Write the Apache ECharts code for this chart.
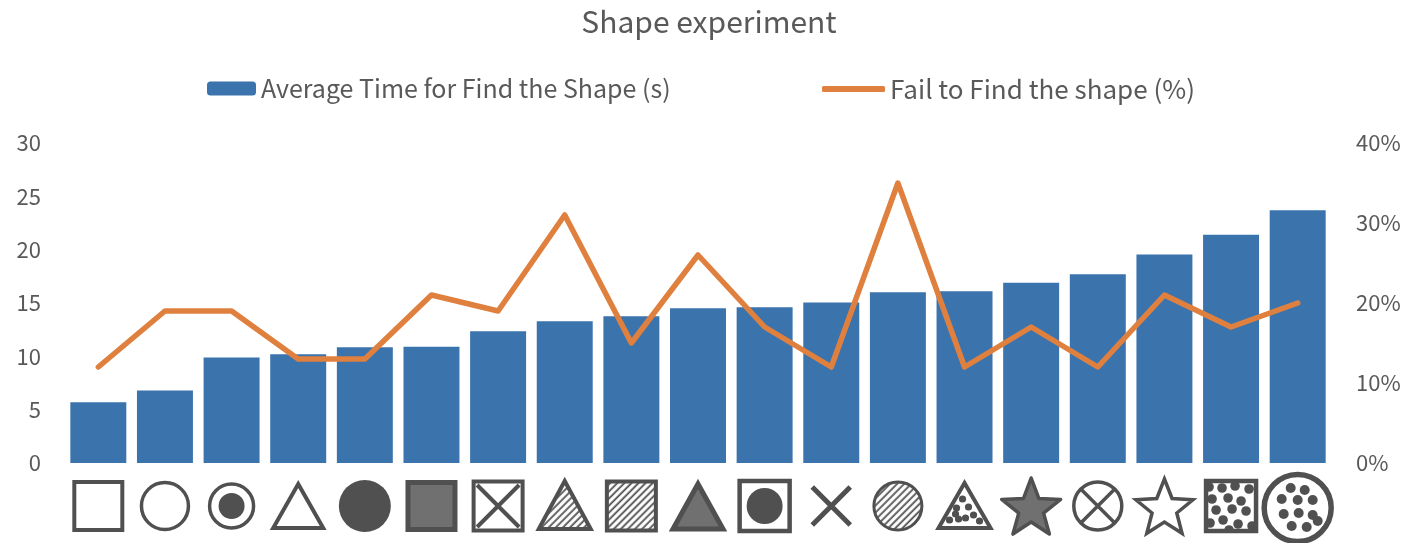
<!DOCTYPE html>
<html>
<head>
<meta charset="utf-8">
<script src="https://cdn.jsdelivr.net/npm/echarts@6/dist/echarts.min.js"></script>
<style>
  html, body { margin: 0; padding: 0; background: #fff; }
  #main { width: 1418px; height: 550px; }
</style>
</head>
<body>
<div id="main"></div>
<script>
// shapes along the x axis, left to right
var categories = ['square', 'circle', 'bullseye', 'triangle', 'filledCircle', 'greySquare',
  'crossSquare', 'hatchTriangle', 'hatchSquare', 'greyTriangle', 'circleSquare', 'cross',
  'hatchCircle', 'dotTriangle', 'greyStar', 'crossCircle', 'star', 'dotSquare', 'dotCircle'];

// Average Time for Find the Shape (s)
var avgTime = [5.7, 6.8, 9.9, 10.2, 10.85, 10.9, 12.35, 13.3, 13.75, 14.5, 14.6, 15.05,
  16.0, 16.1, 16.9, 17.7, 19.55, 21.4, 23.7];

// Fail to Find the shape (%)
var failRate = [12, 19, 19, 13, 13, 21, 19, 31, 15, 26, 17, 12, 35, 12, 17, 12, 21, 17, 20];

var leftTicks = { min: 0, max: 30, interval: 5 };
var rightTicks = { min: 0, max: 40, interval: 10 };

var FONT = '"Noto Sans CJK JP", "Noto Sans", sans-serif';
var TXT = '#595959';
var INK = '#505050';
var GREY = '#707070';

function svg(body) {
  var s = '<svg xmlns="http://www.w3.org/2000/svg" width="148" height="148" viewBox="0 0 74 74">' +
    '<defs><pattern id="h" patternUnits="userSpaceOnUse" width="5" height="5" patternTransform="rotate(45)">' +
    '<rect width="5" height="5" fill="#fff"/><line x1="1.2" y1="0" x2="1.2" y2="5" stroke="' + INK + '" stroke-width="1.8"/></pattern>' +
    '<clipPath id="c"><rect x="12" y="12" width="50" height="50"/></clipPath></defs>' +
    body + '</svg>';
  return 'data:image/svg+xml;charset=utf-8,' + encodeURIComponent(s);
}
function starPts(cx, cy, R, r) {
  var p = [];
  for (var k = 0; k < 10; k++) {
    var a = (-90 + k * 36) * Math.PI / 180;
    var rr = k % 2 ? r : R;
    p.push((cx + rr * Math.cos(a)).toFixed(2) + ',' + (cy + rr * Math.sin(a)).toFixed(2));
  }
  return p.join(' ');
}
function dots(list, r) {
  return list.map(function (d) { return '<circle cx="' + d[0] + '" cy="' + d[1] + '" r="' + r + '" fill="' + INK + '"/>'; }).join('');
}
var st = ' stroke="' + INK + '" ';

var icons = {
  square: '<rect x="13" y="13" width="48" height="48" fill="#fff"' + st + 'stroke-width="4"/>',
  circle: '<circle cx="37" cy="37" r="23.5" fill="#fff"' + st + 'stroke-width="3.5"/>',
  bullseye: '<circle cx="37" cy="37" r="22" fill="#fff"' + st + 'stroke-width="3.5"/><circle cx="37" cy="37" r="13" fill="' + INK + '"/>',
  triangle: '<polygon points="37,15 62,59 12,59" fill="#fff"' + st + 'stroke-width="4"/>',
  filledCircle: '<circle cx="37" cy="37" r="26" fill="' + INK + '"/>',
  greySquare: '<rect x="13.5" y="13.5" width="47" height="47" fill="' + GREY + '"' + st + 'stroke-width="5"/>',
  crossSquare: '<rect x="12.5" y="12.5" width="49" height="49" fill="#fff"' + st + 'stroke-width="4"/><path d="M16 16 L58 58 M58 16 L16 58"' + st + 'stroke-width="4"/>',
  hatchTriangle: '<polygon points="37,12 63,60 11,60" fill="url(#h)"' + st + 'stroke-width="4"/>',
  hatchSquare: '<rect x="12.5" y="12.5" width="49" height="49" fill="url(#h)"' + st + 'stroke-width="4"/>',
  greyTriangle: '<polygon points="37,15 62,60 12,60" fill="' + GREY + '"' + st + 'stroke-width="5"/>',
  circleSquare: '<rect x="12" y="12" width="50" height="50" fill="#fff"' + st + 'stroke-width="4.5"/><circle cx="37" cy="37" r="18" fill="' + INK + '"/>',
  cross: '<path d="M18 18 L56 56 M56 18 L18 56"' + st + 'stroke-width="5"/>',
  hatchCircle: '<circle cx="37" cy="37" r="24" fill="url(#h)"' + st + 'stroke-width="3"/>',
  dotTriangle: '<polygon points="37,14 63,59 11,59" fill="#fff"' + st + 'stroke-width="4"/>' +
    dots([[35, 30], [29, 39], [41, 38], [22, 51], [31, 50], [38, 49], [46, 46], [52, 52], [28, 45]], 3.6),
  greyStar: '<polygon points="' + starPts(37, 40, 31, 13) + '" fill="' + GREY + '"' + st + 'stroke-width="3.5" stroke-linejoin="round"/>',
  crossCircle: '<circle cx="37" cy="37" r="24" fill="#fff"' + st + 'stroke-width="3.5"/><path d="M20 20 L54 54 M54 20 L20 54"' + st + 'stroke-width="3.5"/>',
  star: '<polygon points="' + starPts(37, 40, 30, 13) + '" fill="#fff"' + st + 'stroke-width="3.5"/>',
  dotSquare: '<rect x="12" y="12" width="50" height="50" fill="#fff"/><g clip-path="url(#c)">' +
    dots([[15, 18], [28, 19], [41, 17], [55, 20], [18, 30], [34, 29], [47, 32], [22, 41], [38, 40], [52, 42],
      [16, 54], [29, 51], [44, 55], [58, 57], [35, 61]], 4.8) +
    '</g><rect x="12" y="12" width="50" height="50" fill="none"' + st + 'stroke-width="4.5"/>',
  dotCircle: '<circle cx="37" cy="39" r="33.5" fill="#fff"' + st + 'stroke-width="5.5"/>' +
    dots([[30, 19], [44, 21], [21, 30], [37, 31], [52, 31], [23, 45], [38, 44], [52, 46], [31, 57], [46, 58], [57, 52]], 5)
};

var rich = {};
categories.forEach(function (c) {
  rich[c] = { width: 74, height: 74, lineHeight: 74, align: 'center', backgroundColor: { image: svg(icons[c]) } };
});

var chart = echarts.init(document.getElementById('main'));
chart.setOption({
  backgroundColor: '#fff',
  animation: false,
  textStyle: { fontFamily: FONT },
  title: {
    text: 'Shape experiment',
    left: 'center',
    top: 2,
    textStyle: { fontFamily: FONT, fontSize: 30, fontWeight: 'normal', color: TXT }
  },
  legend: [{
    data: ['Average Time for Find the Shape (s)'],
    left: 202,
    top: 71,
    itemWidth: 49,
    itemHeight: 14,
    textStyle: { fontFamily: FONT, fontSize: 25, color: TXT }
  }, {
    data: [{ name: 'Fail to Find the shape (%)', icon: 'roundRect' }],
    left: 817,
    top: 71,
    itemWidth: 63,
    itemHeight: 6,
    textStyle: { fontFamily: FONT, fontSize: 26, color: TXT }
  }],
  grid: { left: 65, right: 87, top: 143, bottom: 87 },
  xAxis: {
    type: 'category',
    data: categories,
    axisLine: { show: false },
    axisTick: { show: false },
    axisLabel: {
      interval: 0,
      margin: 6,
      formatter: function (v) { return '{' + v + '| }'; },
      rich: rich
    }
  },
  yAxis: [{
    type: 'value',
    min: leftTicks.min,
    max: leftTicks.max,
    interval: leftTicks.interval,
    splitLine: { show: false },
    axisLabel: { fontFamily: FONT, fontSize: 22, color: TXT, margin: 24 }
  }, {
    type: 'value',
    min: rightTicks.min,
    max: rightTicks.max,
    interval: rightTicks.interval,
    splitLine: { show: false },
    axisLabel: { fontFamily: FONT, fontSize: 22, color: TXT, margin: 25, formatter: '{value}%' }
  }],
  series: [{
    name: 'Average Time for Find the Shape (s)',
    type: 'bar',
    data: avgTime,
    barCategoryGap: '16%',
    itemStyle: { color: '#3B73AD' }
  }, {
    name: 'Fail to Find the shape (%)',
    type: 'line',
    yAxisIndex: 1,
    data: failRate,
    symbol: 'none',
    lineStyle: { color: '#E0803F', width: 5.5, cap: 'round', join: 'round' },
    itemStyle: { color: '#E0803F' }
  }]
});
</script>
</body>
</html>
